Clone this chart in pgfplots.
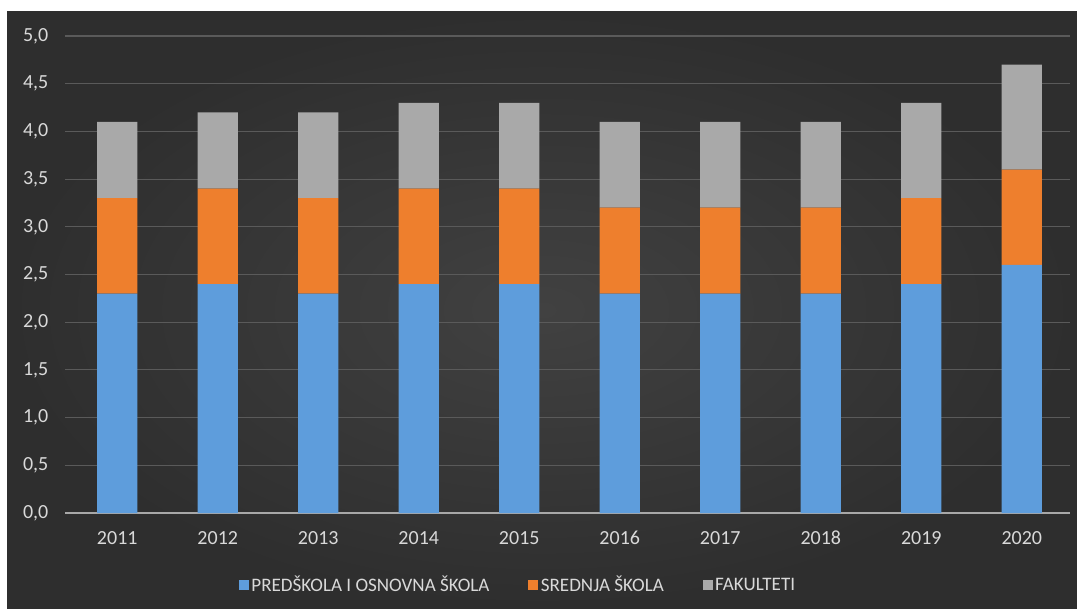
\documentclass[border=0pt]{standalone}
\usepackage{pgfplots}
\pgfplotsset{compat=1.18}
\usepackage{fontspec}
\setmainfont{Carlito}
\definecolor{bgin}{HTML}{414141}
\definecolor{bgout}{HTML}{2E2E2E}
\definecolor{gridc}{HTML}{5A5A5A}
\definecolor{zeroc}{HTML}{A8A8A8}
\definecolor{labc}{HTML}{D9D9D9}
\definecolor{cblue}{HTML}{5E9DDC}
\definecolor{corange}{HTML}{EE7F2D}
\definecolor{cgray}{HTML}{A9A9A9}
\begin{document}
\begin{tikzpicture}
% page (1px = 0.75pt) and dark chart area
\fill[white] (0pt,0pt) rectangle (807.75pt,456pt);
\shade[inner color=bgin, outer color=bgout] (5.25pt,0pt) rectangle (807.75pt,447pt);
\begin{axis}[
  at={(48.75pt,71.25pt)}, anchor=south west,
  scale only axis, width=753.75pt, height=357.75pt,
  ybar stacked, bar width=0.4,
  xmin=-0.52, xmax=9.48, ymin=0, ymax=5,
  xtick={0,...,9},
  xticklabels={2011,2012,2013,2014,2015,2016,2017,2018,2019,2020},
  ytick={0,0.5,...,5},
  yticklabel style={/pgf/number format/fixed, /pgf/number format/fixed zerofill,
    /pgf/number format/precision=1, /pgf/number format/use comma},
  /pgf/number format/assume math mode=true,
  ymajorgrids, grid style={color=gridc, line width=0.8pt},
  extra y ticks={0}, extra y tick labels={},
  extra y tick style={grid style={color=zeroc, line width=1.1pt}},
  axis line style={draw=none},
  major tick length=0pt,
  tick label style={color=labc, font=\fontsize{15}{18}\selectfont},
  yticklabel style={xshift=-9pt},
  xticklabel style={yshift=-10pt},
  legend columns=3,
  legend style={draw=none, fill=none, at={(0.451,-0.151)}, anchor=center,
    text=labc, font=\fontsize{14.3}{17}\selectfont,
    /tikz/every even column/.append style={column sep=27pt}},
  legend image code/.code={\fill[#1] (0pt,-3.75pt) rectangle (7.5pt,3.75pt);},
]
\addplot[fill=cblue, draw=none] coordinates {
  (0,2.3) (1,2.4) (2,2.3) (3,2.4) (4,2.4) (5,2.3) (6,2.3) (7,2.3) (8,2.4) (9,2.6)};
\addlegendentry{PREDŠKOLA I OSNOVNA ŠKOLA}
\addplot[fill=corange, draw=none] coordinates {
  (0,1.0) (1,1.0) (2,1.0) (3,1.0) (4,1.0) (5,0.9) (6,0.9) (7,0.9) (8,0.9) (9,1.0)};
\addlegendentry{SREDNJA ŠKOLA}
\addplot[fill=cgray, draw=none] coordinates {
  (0,0.8) (1,0.8) (2,0.9) (3,0.9) (4,0.9) (5,0.9) (6,0.9) (7,0.9) (8,1.0) (9,1.1)};
\addlegendentry{FAKULTETI}
\end{axis}
\end{tikzpicture}
\end{document}
